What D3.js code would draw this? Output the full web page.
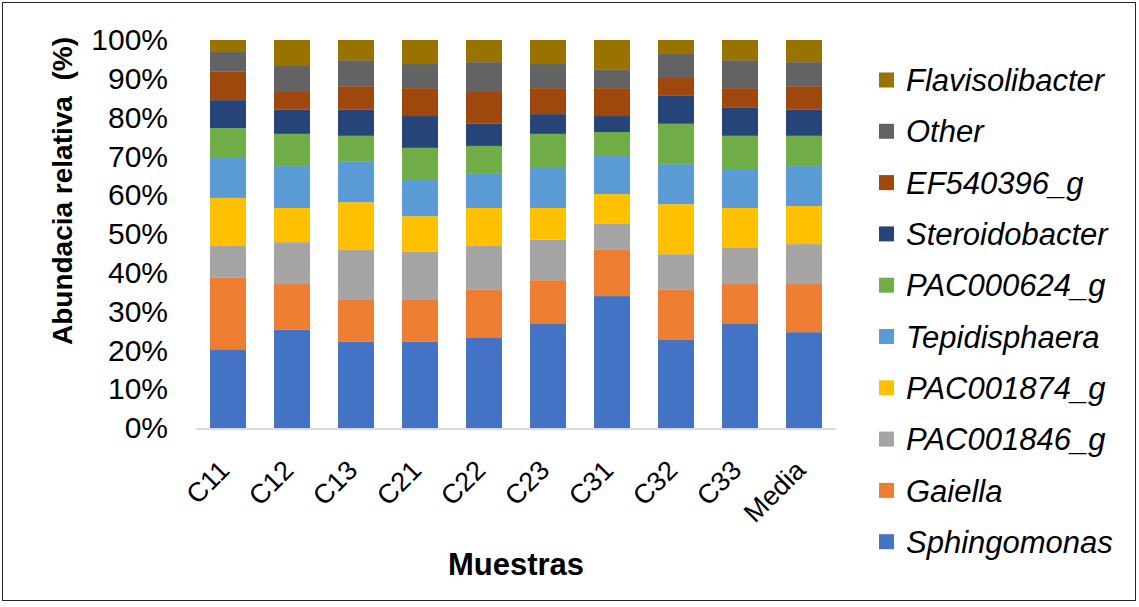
<!DOCTYPE html>
<html>
<head>
<meta charset="utf-8">
<script src="https://cdn.jsdelivr.net/npm/d3@7"></script>
<style>
  body { margin: 0; background: #fff; }
  text { font-family: "Liberation Sans", Arial, sans-serif; fill: #000; }
</style>
</head>
<body>
<div id="chart"></div>
<script>
// Samples (x categories)
var samples = ["C11", "C12", "C13", "C21", "C22", "C23", "C31", "C32", "C33", "Media"];

// Genera, stacked bottom to top
var genera = ["Sphingomonas", "Gaiella", "PAC001846_g", "PAC001874_g", "Tepidisphaera",
  "PAC000624_g", "Steroidobacter", "EF540396_g", "Other", "Flavisolibacter"];
var colors = ["#4472C4", "#ED7D31", "#A5A5A5", "#FFC000", "#5B9BD5",
  "#70AD47", "#264478", "#9E480E", "#636363", "#997300"];

// relative abundance (%) per sample
var sphingomonas    = [20.1, 25.3, 22.2, 22.2, 23.2, 26.8, 34.0, 22.7, 26.8, 24.7];
var gaiella         = [18.6, 11.8, 10.8, 10.8, 12.4, 11.3, 11.9, 12.9, 10.3, 12.4];
var pac001846       = [8.2, 10.8, 12.9, 12.4, 11.3, 10.4, 6.7, 9.2, 9.3, 10.3];
var pac001874       = [12.4, 8.8, 12.3, 9.2, 9.8, 8.2, 7.7, 12.9, 10.3, 9.8];
var tepidisphaera   = [10.3, 10.8, 10.4, 9.3, 8.8, 10.3, 9.8, 10.3, 9.8, 10.3];
var pac000624       = [7.7, 8.3, 6.7, 8.3, 7.2, 8.8, 6.2, 10.4, 8.8, 7.8];
var steroidobacter  = [7.2, 6.2, 6.7, 8.2, 5.7, 5.1, 4.1, 7.2, 7.2, 6.7];
var ef540396        = [7.3, 4.6, 6.1, 7.2, 8.2, 6.7, 7.2, 4.6, 5.1, 6.1];
var other           = [5.1, 6.7, 6.7, 6.2, 7.7, 6.2, 4.7, 6.2, 7.2, 6.2];
var flavisolibacter = [3.1, 6.7, 5.2, 6.2, 5.7, 6.2, 7.7, 3.6, 5.2, 5.7];

var yTicks = [0, 0.1, 0.2, 0.3, 0.4, 0.5, 0.6, 0.7, 0.8, 0.9, 1];

var seriesValues = [sphingomonas, gaiella, pac001846, pac001874, tepidisphaera,
  pac000624, steroidobacter, ef540396, other, flavisolibacter];

// build rows for d3.stack
var table = samples.map(function(s, i) {
  var row = { sample: s };
  genera.forEach(function(g, j) { row[g] = seriesValues[j][i]; });
  return row;
});

var svgWidth = 1139;
var svgHeight = 607;

var plot = { left: 196, right: 836, top: 40, bottom: 428 };

var svg = d3.select("#chart")
  .append("svg")
  .attr("width", svgWidth)
  .attr("height", svgHeight);

// outer chart border
svg.append("rect")
  .attr("x", 2.5).attr("y", 2.5)
  .attr("width", 1133).attr("height", 598)
  .attr("fill", "#fff")
  .attr("stroke", "#262626")
  .attr("stroke-width", 1);

var x = d3.scaleBand()
  .domain(samples)
  .range([plot.left, plot.right])
  .paddingInner(0.4375)
  .paddingOuter(0.21875);

var y = d3.scaleLinear()
  .domain([0, 1])
  .range([plot.bottom, plot.top]);

var stack = d3.stack()
  .keys(genera)
  .offset(d3.stackOffsetExpand);
var stacked = stack(table);

// bars
svg.append("g")
  .selectAll("g")
  .data(stacked)
  .enter()
  .append("g")
  .attr("fill", (d, i) => colors[i])
  .selectAll("rect")
  .data(d => d)
  .enter()
  .append("rect")
  .attr("x", d => x(d.data.sample))
  .attr("y", d => y(d[1]))
  .attr("width", x.bandwidth())
  .attr("height", d => y(d[0]) - y(d[1]));

// y axis (labels only)
var leftAxis = d3.axisLeft(y)
  .tickValues(yTicks)
  .tickFormat(d3.format(".0%"))
  .tickSize(0)
  .tickPadding(28);

svg.append("g")
  .attr("transform", `translate(${plot.left}, 0)`)
  .call(leftAxis)
  .call(g => g.select(".domain").remove())
  .selectAll("text")
  .style("font-size", "30px")
  .attr("font-family", null);

// x axis
var bottomAxis = d3.axisBottom(x).tickSize(0);

var xg = svg.append("g")
  .attr("transform", `translate(0, ${plot.bottom})`)
  .call(bottomAxis);

xg.select(".domain").remove();
xg.append("line")
  .attr("x1", plot.left).attr("x2", plot.right)
  .attr("y1", 1).attr("y2", 1)
  .attr("stroke", "#d9d9d9")
  .attr("stroke-width", 2);

xg.selectAll(".tick text")
  .attr("x", 0).attr("y", 0).attr("dy", 0)
  .attr("text-anchor", "end")
  .attr("transform", "translate(3, 44) rotate(-45)")
  .style("font-size", "27px")
  .attr("font-family", null);

// axis titles
svg.append("text")
  .attr("transform", "translate(72, 191) rotate(-90)")
  .attr("text-anchor", "middle")
  .style("font-size", "28px")
  .style("font-weight", "bold")
  .style("white-space", "pre")
  .text("Abundacia relativa  (%)");

svg.append("text")
  .attr("x", (plot.left + plot.right) / 2)
  .attr("y", 575)
  .attr("text-anchor", "middle")
  .style("font-size", "31px")
  .style("font-weight", "bold")
  .text("Muestras");

// legend, top entry is the top of the stack
var legendOrder = genera.map((g, i) => i).reverse();
var legend = svg.append("g")
  .selectAll("g")
  .data(legendOrder)
  .enter()
  .append("g")
  .attr("transform", (d, k) => `translate(879, ${80 + k * 51.3})`);

legend.append("rect")
  .attr("x", 0).attr("y", -7.5)
  .attr("width", 15).attr("height", 15)
  .attr("fill", d => colors[d]);

legend.append("text")
  .attr("x", 27)
  .attr("dy", "0.36em")
  .style("font-size", "31px")
  .style("font-style", "italic")
  .text(d => genera[d]);
</script>
</body>
</html>
